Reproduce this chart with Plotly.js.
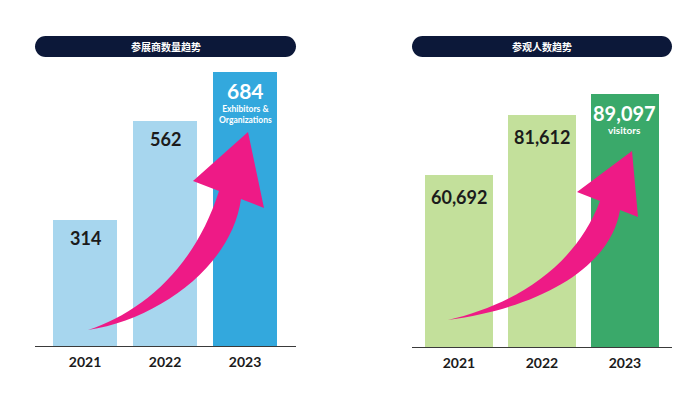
<!DOCTYPE html>
<html><head><meta charset="utf-8">
<script src="https://cdn.plot.ly/plotly-3.0.1.min.js"></script>
<style>html,body{margin:0;padding:0;background:#fff}#chart{width:700px;height:394px}</style>
</head><body><div id="chart"></div>
<script>
// ---- data ----
const years = ['2021', '2022', '2023'];
const exhibitors = [314, 562, 684];
const visitors = [60692, 81612, 89097];
const exhibitorLabels = ['314', '562', '684'];
const visitorLabels = ['60,692', '81,612', '89,097'];
const titleLeft = '参展商数量趋势';
const titleRight = '参观人数趋势';
const subLeft = ['Exhibitors &', 'Organizations'];
const subRight = ['visitors'];

// ---- helpers ----
const W = 700, H = 394;
const px = x => x / W;
const py = y => 1 - y / H;
function P(pts) {
  return pts.map(s => px(s[0]).toFixed(5) + ',' + py(s[1]).toFixed(5)).join(' ');
}
function pill(x0, x1, y0, y1) {
  const r = (y1 - y0) / 2, k = r * 0.5523;
  const ym = (y0 + y1) / 2;
  return 'M ' + P([[x0 + r, y0]]) + ' L ' + P([[x1 - r, y0]]) +
    ' C ' + P([[x1 - r + k, y0]]) + ' ' + P([[x1, ym - k]]) + ' ' + P([[x1, ym]]) +
    ' C ' + P([[x1, ym + k]]) + ' ' + P([[x1 - r + k, y1]]) + ' ' + P([[x1 - r, y1]]) +
    ' L ' + P([[x0 + r, y1]]) +
    ' C ' + P([[x0 + r - k, y1]]) + ' ' + P([[x0, ym + k]]) + ' ' + P([[x0, ym]]) +
    ' C ' + P([[x0, ym - k]]) + ' ' + P([[x0 + r - k, y0]]) + ' ' + P([[x0 + r, y0]]) + ' Z';
}
function arrow(tail, c1u, c2u, upEnd, wingL, tip, wingR, lowEnd, c1l, c2l) {
  return 'M ' + P([tail]) + ' C ' + P([c1u]) + ' ' + P([c2u]) + ' ' + P([upEnd]) +
    ' L ' + P([wingL]) + ' L ' + P([tip]) + ' L ' + P([wingR]) + ' L ' + P([lowEnd]) +
    ' C ' + P([c1l]) + ' ' + P([c2l]) + ' ' + P([tail]) + ' Z';
}
const esc = s => s.replace(/&/g, '&amp;');

const pink = '#ee1a86';
const dark = '#1b1b1b';
const numFont = 'Lato, "Open Sans", sans-serif';
const cjkFont = '"Noto Sans CJK SC", "Noto Sans", sans-serif';

const traces = [
  {type: 'bar', x: years, y: exhibitors, xaxis: 'x', yaxis: 'y', width: 0.79,
   marker: {color: ['#a7d6ee', '#a7d6ee', '#33a8dd']}, hoverinfo: 'none'},
  {type: 'bar', x: years, y: visitors, xaxis: 'x2', yaxis: 'y2', width: 0.81,
   marker: {color: ['#c3e09b', '#c3e09b', '#3aa96a']}, hoverinfo: 'none'}
];

const ann = [];
years.forEach((yr, i) => {
  const last = i === years.length - 1;
  ann.push({xref: 'x', yref: 'y', x: i, y: exhibitors[i], text: '<b>' + exhibitorLabels[i] + '</b>',
    showarrow: false, xanchor: 'center', yanchor: 'middle', yshift: -18,
    font: {family: numFont, size: last ? 21 : 18, color: last ? '#ffffff' : dark}});
  ann.push({xref: 'x2', yref: 'y2', x: i, y: visitors[i], text: '<b>' + visitorLabels[i] + '</b>',
    showarrow: false, xanchor: 'center', yanchor: 'middle', yshift: last ? -19 : -22,
    font: {family: numFont, size: last ? 20 : 18, color: last ? '#ffffff' : dark}});
});
ann.push({xref: 'x', yref: 'y', x: 2, y: exhibitors[2],
  text: subLeft.map(t => '<b>' + esc(t) + '</b>').join('<br>'), showarrow: false,
  xanchor: 'center', yanchor: 'middle', yshift: -42, borderpad: 0,
  font: {family: numFont, size: 8.5, color: '#ffffff'}});
ann.push({xref: 'x2', yref: 'y2', x: 2, y: visitors[2],
  text: subRight.map(t => '<b>' + esc(t) + '</b>').join('<br>'), showarrow: false,
  xanchor: 'center', yanchor: 'middle', yshift: -36, borderpad: 0,
  font: {family: numFont, size: 10, color: '#ffffff'}});
ann.push({xref: 'paper', yref: 'paper', x: px(165.5), y: py(46.5), xanchor: 'center', yanchor: 'middle',
  text: '<b>' + titleLeft + '</b>', showarrow: false, font: {family: cjkFont, size: 10, color: '#ffffff'}});
ann.push({xref: 'paper', yref: 'paper', x: px(542), y: py(46.5), xanchor: 'center', yanchor: 'middle',
  text: '<b>' + titleRight + '</b>', showarrow: false, font: {family: cjkFont, size: 10, color: '#ffffff'}});

const shapes = [
  {type: 'path', xref: 'paper', yref: 'paper', path: pill(35, 296, 36, 57), fillcolor: '#0c1839', line: {width: 0}},
  {type: 'path', xref: 'paper', yref: 'paper', path: pill(412, 672, 36, 57), fillcolor: '#0c1839', line: {width: 0}},
  {type: 'path', xref: 'paper', yref: 'paper', fillcolor: pink, line: {width: 0}, layer: 'above',
   path: arrow([88, 330], [140, 313], [194, 270], [219, 191], [193, 181], [248, 132], [264, 208], [241, 199], [232, 265], [160, 319])},
  {type: 'path', xref: 'paper', yref: 'paper', fillcolor: pink, line: {width: 0}, layer: 'above',
   path: arrow([448, 320], [510, 306], [574, 270], [600, 201], [577, 192], [632, 151], [638, 217], [620, 210], [612, 262], [550, 306])}
];

const xCommon = {type: 'category', showgrid: false, zeroline: false, showline: true, linecolor: '#3a3a3a', linewidth: 1,
  ticks: '', ticklabelstandoff: 3, tickfont: {family: numFont, size: 14, color: dark, weight: 'bold'}, fixedrange: true};
const yCommon = {showgrid: false, zeroline: false, showline: false, showticklabels: false, ticks: '', fixedrange: true};

const layout = {
  width: W, height: H, margin: {l: 0, r: 0, t: 0, b: 0},
  paper_bgcolor: '#ffffff', plot_bgcolor: 'rgba(0,0,0,0)', showlegend: false, bargap: 0,
  xaxis: Object.assign({}, xCommon, {domain: [px(35), px(296)], anchor: 'y', range: [-0.625, 2.6375]}),
  xaxis2: Object.assign({}, xCommon, {domain: [px(412), px(672)], anchor: 'y2', range: [-0.566, 2.567]}),
  yaxis: Object.assign({}, yCommon, {domain: [py(346), py(40)], anchor: 'x', range: [0, 763.9]}),
  yaxis2: Object.assign({}, yCommon, {domain: [py(347), py(40)], anchor: 'x2', range: [0, 108175]}),
  annotations: ann, shapes: shapes
};
Plotly.newPlot('chart', traces, layout, {displayModeBar: false, staticPlot: true});
</script></body></html>
